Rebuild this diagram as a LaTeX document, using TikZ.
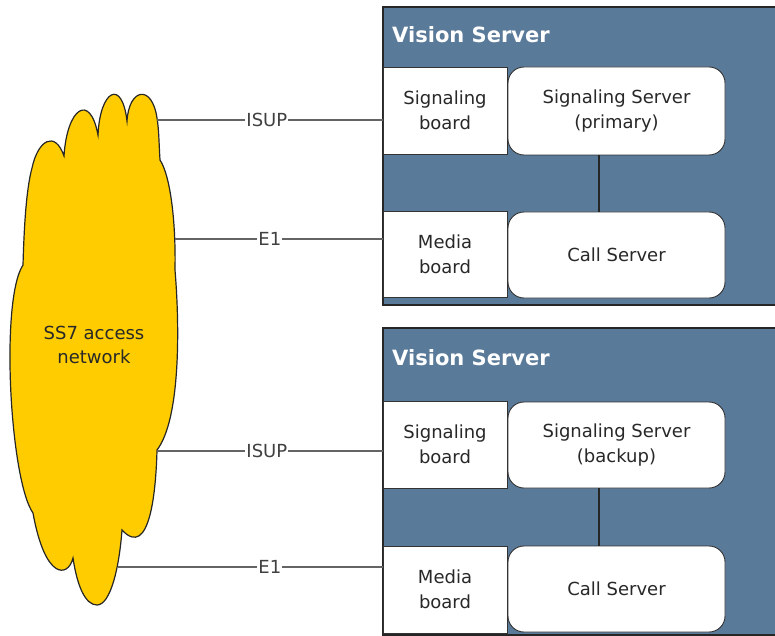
\documentclass[tikz,border=0pt]{standalone}
\usepackage{fontspec}
\setmainfont{DejaVu Sans}
\definecolor{serverblue}{RGB}{90,122,153}
\definecolor{cloudyellow}{RGB}{255,204,0}
\definecolor{linegray}{RGB}{100,100,100}
\definecolor{txt}{RGB}{40,40,40}
\begin{document}
\begin{tikzpicture}[x=1pt,y=-1pt,
  serverbox/.style={draw=black!85, line width=1.6pt, fill=serverblue},
  boardbox/.style={draw=black!80, line width=0.9pt, fill=white, minimum width=124pt,
     align=center, inner sep=0pt, text=txt, font=\fontsize{18}{25}\selectfont},
  procbox/.style={boardbox, rounded corners=16pt, minimum width=217pt},
  titletext/.style={anchor=base west, inner sep=0pt, text=white, font=\bfseries\fontsize{21}{25}\selectfont},
  conn/.style={draw=linegray, line width=1.6pt},
  lbl/.style={fill=white, inner xsep=1pt, inner ysep=0pt, text=black!75, font=\fontsize{18}{22}\selectfont},
  inner/.style={draw=black!85, line width=1.2pt}
]
\useasboundingbox (0,0) rectangle (775,636);
\clip (0,0) rectangle (775,636);

% cloud
\draw[fill=cloudyellow, draw=black!85, line width=1.2pt]
  (23,265) .. controls (24,230) and (26,190) .. (32,168)
  .. controls (38,140) and (55,130) .. (64,156)
  .. controls (67,108) and (90,92) .. (98,135)
  .. controls (100,90) and (122,78) .. (127,121)
  .. controls (129,88) and (152,84) .. (157,118)
  .. controls (159,130) and (159,145) .. (160,160)
  .. controls (170,175) and (176,220) .. (175,270)
  .. controls (180,330) and (180,420) .. (157,450)
  .. controls (156,490) and (150,560) .. (122,530)
  .. controls (119,570) and (110,605) .. (97,605)
  .. controls (85,605) and (77,585) .. (73,558)
  .. controls (68,578) and (45,580) .. (33,513)
  .. controls (10,480) and (0,300) .. cycle;
\node[text=txt, align=center, font=\fontsize{18}{24}\selectfont] (cloud) at (94,345) {SS7 access\\network};

% server boxes
\draw[serverbox] (383,7) rectangle (800,305);
\draw[serverbox] (383,328) rectangle (800,635);
\node[titletext] (t1) at (392,43) {Vision Server};
\node[titletext] (t2) at (392,365) {Vision Server};

% top server
\node[boardbox, minimum height=87pt] (sb1) at (445,110.5) {Signaling\\board};
\node[procbox, minimum height=88pt] (ss1) at (616.5,111) {Signaling Server\\(primary)};
\node[boardbox, minimum height=86pt] (mb1) at (445,254) {Media\\board};
\node[procbox, minimum height=86pt] (cs1) at (616.5,255) {Call Server};
\draw[inner] (ss1.south -| 599,0) -- (cs1.north -| 599,0);

% bottom server
\node[boardbox, minimum height=87pt] (sb2) at (445,444.5) {Signaling\\board};
\node[procbox, minimum height=86pt] (ss2) at (616.5,445) {Signaling Server\\(backup)};
\node[boardbox, minimum height=87pt] (mb2) at (445,589.5) {Media\\board};
\node[procbox, minimum height=86pt] (cs2) at (616.5,589) {Call Server};
\draw[inner] (ss2.south -| 599,0) -- (cs2.north -| 599,0);

% connectors
\coordinate (c1) at (157,120);
\coordinate (c2) at (175,239);
\coordinate (c3) at (157,451);
\coordinate (c4) at (118,567);
\draw[conn] (c1) -- node[lbl, pos=0.487] {ISUP} (c1 -| sb1.west);
\draw[conn] (c2) -- node[lbl, pos=0.457] {E1} (c2 -| mb1.west);
\draw[conn] (c3) -- node[lbl, pos=0.487] {ISUP} (c3 -| sb2.west);
\draw[conn] (c4) -- node[lbl, pos=0.574] {E1} (c4 -| mb2.west);
\end{tikzpicture}
\end{document}
